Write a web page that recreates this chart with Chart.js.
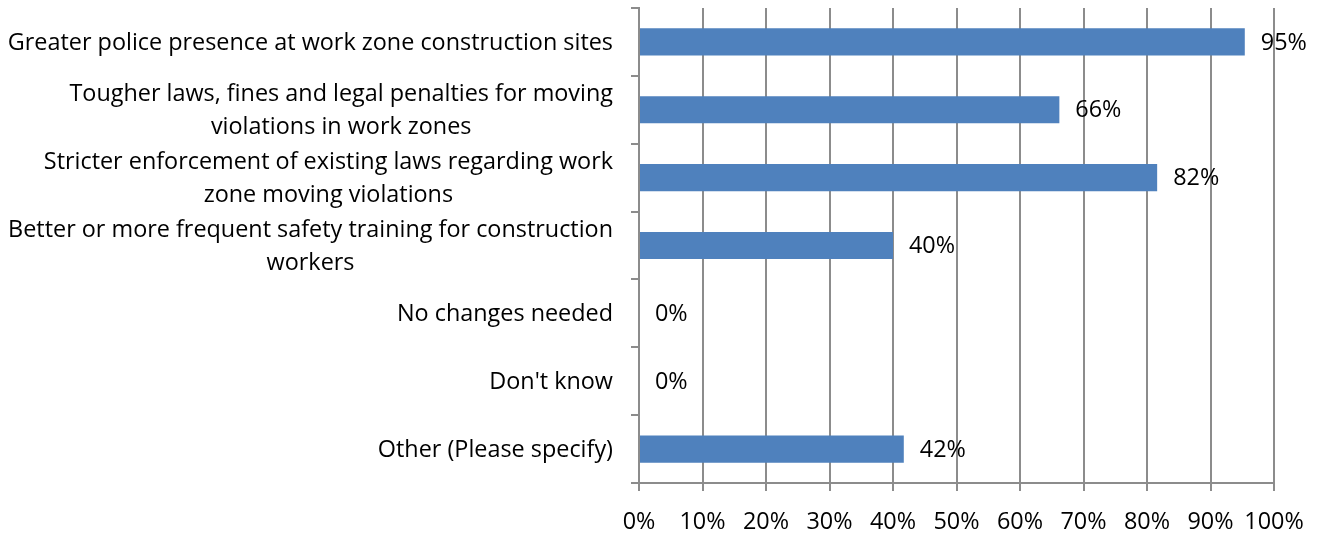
<!DOCTYPE html>
<html>
<head>
<meta charset="utf-8">
<script src="https://cdn.jsdelivr.net/npm/chart.js@4"></script>
<style>
  html, body { margin: 0; padding: 0; background: #fff; }
</style>
</head>
<body>
<canvas id="chart" width="1322" height="533"></canvas>
<script>
const categories = [
    ['Greater police presence at work zone construction sites'],
    ['Tougher laws, fines and legal penalties for moving', 'violations in work zones'],
    ['Stricter enforcement of existing laws regarding work', 'zone moving violations'],
    ['Better or more frequent safety training for construction', 'workers'],
    ['No changes needed'],
    ["Don't know"],
    ['Other (Please specify)']
];

const values = [95.4, 66.2, 81.6, 40.0, 0, 0, 41.7];

const xTicks = [0, 10, 20, 30, 40, 50, 60, 70, 80, 90, 100];

const FONT_SIZE = 23.4;
const FONT = FONT_SIZE + 'px "Open Sans"';
const TEXT = '#000000';
const GRID = '#8c8c8c';

// category labels drawn by hand: lines are centred on each other, block right-aligned
const categoryLabels = {
    id: 'categoryLabels',
    afterDraw(chart) {
        const ctx = chart.ctx;
        const y = chart.scales.y;
        const right = y.right - 26;
        const lineHeight = 33;
        ctx.save();
        ctx.font = FONT;
        ctx.fillStyle = TEXT;
        ctx.textAlign = 'center';
        ctx.textBaseline = 'middle';
        categories.forEach((lines, i) => {
            const cy = y.getPixelForValue(i) + 1;
            const w = Math.max(...lines.map(l => ctx.measureText(l).width));
            const cx = right - w / 2;
            const top = cy - (lines.length - 1) * lineHeight / 2;
            lines.forEach((l, j) => ctx.fillText(l, cx, top + j * lineHeight));
        });
        ctx.restore();
    }
};

const valueLabels = {
    id: 'valueLabels',
    afterDatasetsDraw(chart) {
        const ctx = chart.ctx;
        const meta = chart.getDatasetMeta(0);
        ctx.save();
        ctx.font = FONT;
        ctx.fillStyle = TEXT;
        ctx.textAlign = 'left';
        ctx.textBaseline = 'middle';
        meta.data.forEach((bar, i) => {
            ctx.fillText(Math.round(values[i]) + '%', bar.x + 16, bar.y + 1);
        });
        ctx.restore();
    }
};

new Chart(document.getElementById('chart'), {
    type: 'bar',
    data: {
        labels: categories.map(l => l.join(' ')),
        datasets: [{
            data: values,
            backgroundColor: '#4F81BD',
            borderWidth: 0,
            barPercentage: 0.4,
            categoryPercentage: 1.0
        }]
    },
    options: {
        indexAxis: 'y',
        responsive: false,
        animation: false,
        layout: { padding: { top: 8, right: 48, left: 0, bottom: 0 } },
        plugins: {
            legend: { display: false },
            tooltip: { enabled: false },
            title: { display: false }
        },
        scales: {
            x: {
                min: 0,
                max: 100,
                afterBuildTicks: (scale) => {
                    scale.ticks = xTicks.map(v => ({ value: v }));
                },
                afterFit: (scale) => { scale.height = 50; },
                grid: {
                    color: GRID,
                    lineWidth: 2,
                    tickLength: 8,
                    drawTicks: true
                },
                border: { color: GRID, width: 2 },
                ticks: {
                    font: { family: 'Open Sans', size: FONT_SIZE },
                    color: TEXT,
                    padding: 17,
                    maxRotation: 0,
                    callback: (v) => v + '%'
                }
            },
            y: {
                afterFit: (scale) => { scale.width = 639; },
                grid: {
                    drawOnChartArea: false,
                    drawTicks: true,
                    tickLength: 8,
                    color: GRID,
                    lineWidth: 2
                },
                border: { color: GRID, width: 2 },
                ticks: { display: false }
            }
        }
    },
    plugins: [categoryLabels, valueLabels]
});
</script>
</body>
</html>
